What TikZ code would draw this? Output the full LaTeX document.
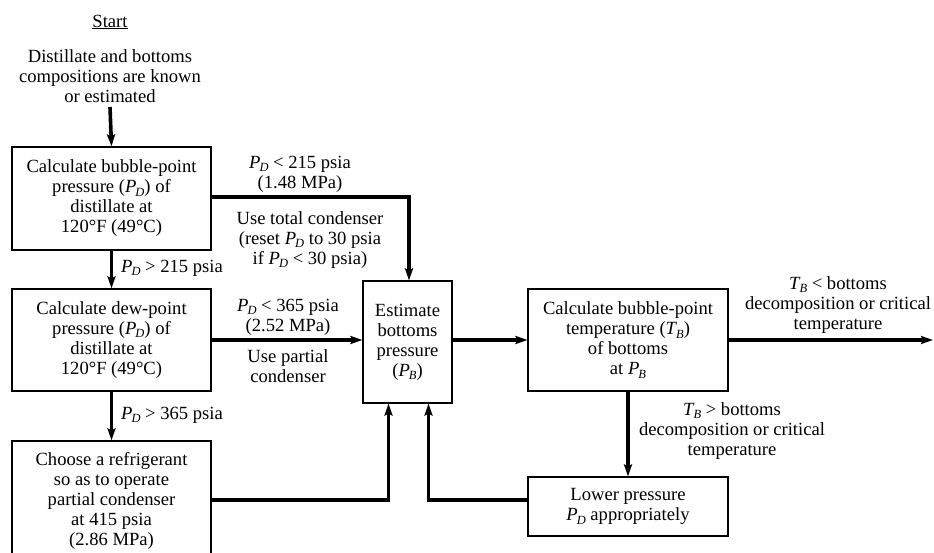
\documentclass[tikz,border=0pt]{standalone}
\usepackage{fontspec}
\setmainfont{Liberation Serif}
\usetikzlibrary{arrows.meta}
\newcommand{\sbs}[1]{\raisebox{-3.5pt}{\fontsize{12.5}{12.5}\selectfont\textit{#1}}}
\newcommand{\PD}{\textit{P}\kern-1pt\sbs{D}}
\newcommand{\PB}{\textit{P}\kern-1pt\sbs{B}}
\newcommand{\TB}{\textit{T}\kern-1pt\sbs{B}}
\begin{document}
\begin{tikzpicture}[x=1pt,y=-1pt,
  every node/.style={font=\fontsize{18.6}{20}\selectfont, align=center, inner sep=0pt},
  box/.style={draw, line width=1.1pt, minimum width=#1},
  lbl/.style={},
  arr/.style={line width=3.6pt, -{Stealth[length=12pt,width=8pt,inset=2pt]}}]
\useasboundingbox (0,0) rectangle (934,553);
% nodes
\node (start) at (110,22) {\underline{Start}};
\node (known) at (110,76) {Distillate and bottoms\\compositions are known\\or estimated};
\node[box=199pt, minimum height=103pt] (b1) at (111.5,198.5) {Calculate bubble-point\\pressure (\PD) of\\distillate at\\120°F (49°C)};
\node[box=199pt, minimum height=102pt] (b2) at (111.5,340) {Calculate dew-point\\pressure (\PD) of\\distillate at\\120°F (49°C)};
\node[box=199pt, minimum height=120pt] (b3) at (111.5,501) {Choose a refrigerant\\so as to operate\\partial condenser\\at 415 psia\\(2.86 MPa)};
\node[box=89pt, minimum height=122pt] (est) at (407.5,342) {Estimate\\bottoms\\pressure\\(\PB)};
\node[box=200pt, minimum height=102pt] (bt) at (628,340) {Calculate bubble-point\\temperature (\TB)\\of bottoms\\at \PB};
\node[box=200pt, minimum height=59pt] (low) at (628,506.5) {Lower pressure\\\PD\ appropriately};
\coordinate (out) at (933,340);
% labels
\node[lbl] (l1) at (300,174) {\PD\ < 215 psia\\(1.48 MPa)};
\node[lbl] (l2) at (310,240) {Use total condenser\\(reset \PD\ to 30 psia\\if \PD\ < 30 psia)};
\node[lbl, anchor=west] (l3) at (121,268) {\PD\ > 215 psia};
\node[lbl] (l4) at (288,317) {\PD\ < 365 psia\\(2.52 MPa)};
\node[lbl] (l5) at (288,366) {Use partial\\condenser};
\node[lbl, anchor=west] (l6) at (121,415) {\PD\ > 365 psia};
\node[lbl] (l7) at (838,305) {\TB\ < bottoms\\decomposition or critical\\temperature};
\node[lbl] (l8) at (732,431) {\TB\ > bottoms\\decomposition or critical\\temperature};
% connectors
\draw[arr] (known.south |- 0,107) -- (b1.north);
\draw[arr] (b1.south) -- (b2.north);
\draw[arr] (b2.south) -- (b3.north);
\draw[arr] ([yshift=1.5pt]b1.east) -| ([xshift=1.5pt]est.north);
\draw[arr] (b2.east) -- (b2.east -| est.west);
\draw[arr] (b3.east |- 0,500) -| ([xshift=-19pt]est.south);
\draw[arr] (low.west |- 0,500) -| ([xshift=21pt]est.south);
\draw[arr] (bt.west -| est.east) -- (bt.west);
\draw[arr] (bt.east) -- (out);
\draw[arr] (bt.south) -- (low.north);
\end{tikzpicture}
\end{document}
